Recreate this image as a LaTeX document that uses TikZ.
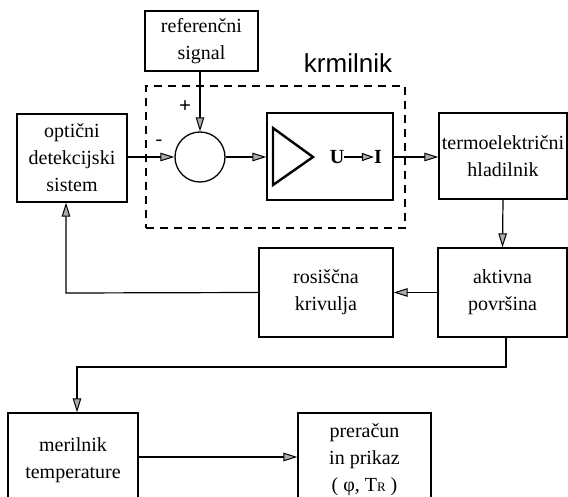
\documentclass[tikz,border=0pt]{standalone}
\usepackage{fontspec}
\setmainfont{Liberation Serif}
\newfontfamily\krmfont{Liberation Sans}
\usetikzlibrary{arrows.meta}
\begin{document}
\begin{tikzpicture}[x=1pt,y=-1pt,
  blk/.style={draw, line width=1.3pt, rectangle, inner sep=0pt, align=center,
              font=\fontsize{20}{27}\selectfont},
  arr/.style={line width=1.2pt, -{Triangle[length=14pt,width=8.5pt,fill=gray!65,line width=1pt]}},
  sarr/.style={line width=1.2pt, -{Triangle[length=12pt,width=8pt,fill=gray!65,line width=1pt]}},
  lbl/.style={inner sep=0pt, font=\fontsize{20}{27}\selectfont},
]
\useasboundingbox (0,0) rectangle (568,497);
\clip (0,0) rectangle (568,497);
% controller (dashed)
\node[draw, line width=1.6pt, dash pattern=on 8pt off 6pt, minimum width=259pt, minimum height=142pt, inner sep=0pt] (krm) at (275.5,157) {};
\node[anchor=base, inner sep=0pt, font=\krmfont\fontsize{26}{26}\selectfont] (krmlabel) at (348,73) {krmilnik};
% blocks
\node[blk, minimum width=113pt, minimum height=60pt] (ref) at (201.5,41) {referenčni\\signal};
\node[blk, minimum width=110pt, minimum height=88pt] (opt) at (72,158) {optični\\detekcijski\\sistem};
\node[blk, circle, minimum size=50pt] (sum) at (200,157) {};
\node[blk, minimum width=126pt, minimum height=87pt] (amp) at (330,156.5) {};
\node[blk, minimum width=128pt, minimum height=86pt] (termo) at (503,156) {termoelektrični\\hladilnik};
\node[blk, minimum width=129pt, minimum height=89pt] (akt) at (502.5,292.5) {aktivna\\površina};
\node[blk, minimum width=134pt, minimum height=89pt] (ros) at (326,292.5) {rosiščna\\krivulja};
\node[blk, minimum width=130pt, minimum height=94pt] (mer) at (73,460) {merilnik\\temperature};
\node[blk, minimum width=133pt, minimum height=94pt] (pre) at (364.5,460) {preračun\\in prikaz\\( φ, T{\fontsize{13}{13}\selectfont R} )};
% amplifier symbol
\coordinate (t1) at (273,128);
\coordinate (t2) at (273,185);
\coordinate (t3) at (313,157);
\draw[line width=2.4pt, line join=miter] (t1) -- (t2) -- (t3) -- cycle;
\node[lbl, font=\fontsize{20}{27}\selectfont\bfseries] (uU) at (337,157) {U};
\node[lbl, font=\fontsize{20}{27}\selectfont\bfseries] (uI) at (378,157) {I};
\draw[sarr] (uU.east) -- (uI.west);
% signs
\node[lbl] (minus) at (159,143) {-};
\node[lbl, font=\fontsize{21}{21}\selectfont\bfseries] (plus) at (185,107) {+};
% connectors
\draw[arr] (sum.north |- ref.south) -- (sum.north);
\draw[arr] (opt.east |- sum.west) -- (sum.west);
\draw[arr] (sum.east) -- (amp.west |- sum.east);
\draw[arr] (amp.east |- sum.east) -- (termo.west |- sum.east);
\draw[arr] (termo.south) -- (akt.north);
\draw[arr] (akt.west) -- (ros.east);
\coordinate (fb) at (66,293);
\draw[arr] (ros.west) -- (fb) -- (fb |- opt.south);
\coordinate (c1) at (506,367);
\coordinate (c2) at (77,367);
\draw[arr] (c1 |- akt.south) -- (c1) -- (c2) -- (c2 |- mer.north);
\draw[arr] ([yshift=3pt]mer.east) -- ([yshift=3pt]pre.west);
\end{tikzpicture}
\end{document}
